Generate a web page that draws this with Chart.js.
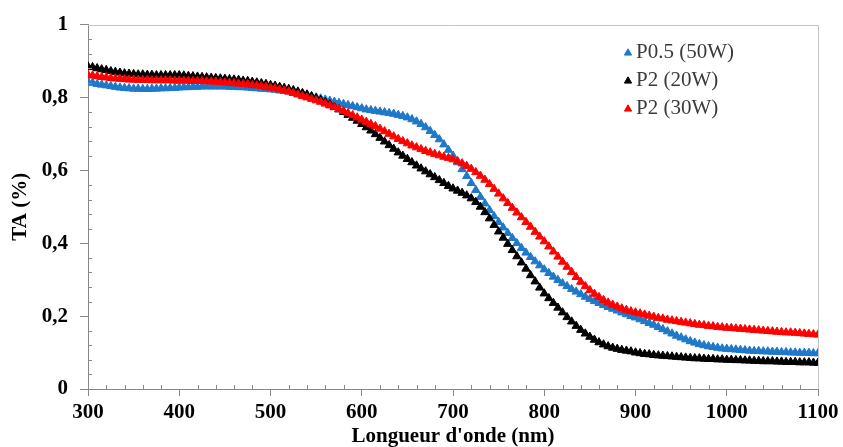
<!DOCTYPE html>
<html>
<head>
<meta charset="utf-8">
<script src="https://cdn.jsdelivr.net/npm/chart.js@4.4.0/dist/chart.umd.min.js"></script>
<style>
  html, body { margin: 0; padding: 0; background: #fff; }
</style>
</head>
<body>
<canvas id="taChart" width="843" height="447"></canvas>
<script>
//---------------------------------------------------------
// Data (one point every 5 nm)
const wavelengths = [
  300, 305, 310, 315, 320, 325, 330, 335, 340, 345, 350, 355, 360, 365, 370, 375, 380, 385, 390, 395,
  400, 405, 410, 415, 420, 425, 430, 435, 440, 445, 450, 455, 460, 465, 470, 475, 480, 485, 490, 495,
  500, 505, 510, 515, 520, 525, 530, 535, 540, 545, 550, 555, 560, 565, 570, 575, 580, 585, 590, 595,
  600, 605, 610, 615, 620, 625, 630, 635, 640, 645, 650, 655, 660, 665, 670, 675, 680, 685, 690, 695,
  700, 705, 710, 715, 720, 725, 730, 735, 740, 745, 750, 755, 760, 765, 770, 775, 780, 785, 790, 795,
  800, 805, 810, 815, 820, 825, 830, 835, 840, 845, 850, 855, 860, 865, 870, 875, 880, 885, 890, 895,
  900, 905, 910, 915, 920, 925, 930, 935, 940, 945, 950, 955, 960, 965, 970, 975, 980, 985, 990, 995,
  1000, 1005, 1010, 1015, 1020, 1025, 1030, 1035, 1040, 1045, 1050, 1055, 1060, 1065, 1070, 1075, 1080, 1085, 1090, 1095,
  1100
];

// P0.5 (50W) - blue
const taP05_50W = [
  0.843, 0.840, 0.837, 0.835, 0.833, 0.831, 0.829, 0.827, 0.826, 0.825, 0.824, 0.824, 0.823, 0.823, 0.824, 0.824, 0.825, 0.825, 0.826, 0.826,
  0.827, 0.828, 0.828, 0.829, 0.829, 0.830, 0.830, 0.830, 0.830, 0.830, 0.830, 0.829, 0.829, 0.828, 0.828, 0.827, 0.826, 0.825, 0.824, 0.823,
  0.822, 0.821, 0.819, 0.818, 0.816, 0.814, 0.812, 0.809, 0.806, 0.803, 0.800, 0.797, 0.794, 0.791, 0.788, 0.785, 0.782, 0.779, 0.776, 0.773,
  0.770, 0.767, 0.765, 0.763, 0.761, 0.759, 0.757, 0.755, 0.752, 0.749, 0.745, 0.740, 0.734, 0.727, 0.718, 0.708, 0.697, 0.685, 0.671, 0.656,
  0.640, 0.622, 0.603, 0.584, 0.565, 0.546, 0.527, 0.509, 0.491, 0.474, 0.458, 0.443, 0.428, 0.414, 0.400, 0.387, 0.374, 0.362, 0.350, 0.339,
  0.328, 0.318, 0.308, 0.299, 0.290, 0.282, 0.274, 0.267, 0.260, 0.253, 0.247, 0.241, 0.236, 0.230, 0.225, 0.220, 0.215, 0.210, 0.205, 0.200,
  0.196, 0.191, 0.186, 0.181, 0.176, 0.170, 0.164, 0.158, 0.152, 0.146, 0.141, 0.136, 0.131, 0.127, 0.123, 0.120, 0.117, 0.115, 0.113, 0.111,
  0.110, 0.109, 0.108, 0.107, 0.106, 0.105, 0.104, 0.104, 0.103, 0.103, 0.102, 0.102, 0.101, 0.101, 0.100, 0.100, 0.099, 0.099, 0.099, 0.098,
  0.098
];

// P2 (20W) - black
const taP2_20W = [
  0.885, 0.883, 0.880, 0.877, 0.875, 0.872, 0.870, 0.868, 0.866, 0.865, 0.864, 0.863, 0.863, 0.862, 0.862, 0.861, 0.861, 0.861, 0.861, 0.861,
  0.861, 0.860, 0.859, 0.858, 0.857, 0.856, 0.855, 0.854, 0.853, 0.852, 0.851, 0.850, 0.849, 0.848, 0.846, 0.845, 0.843, 0.841, 0.839, 0.837,
  0.834, 0.832, 0.829, 0.826, 0.823, 0.820, 0.816, 0.812, 0.808, 0.803, 0.798, 0.793, 0.787, 0.781, 0.774, 0.767, 0.760, 0.752, 0.744, 0.736,
  0.727, 0.718, 0.709, 0.699, 0.689, 0.679, 0.669, 0.659, 0.649, 0.640, 0.631, 0.622, 0.613, 0.605, 0.597, 0.589, 0.581, 0.573, 0.565, 0.557,
  0.550, 0.544, 0.538, 0.531, 0.523, 0.513, 0.500, 0.485, 0.468, 0.450, 0.432, 0.415, 0.398, 0.381, 0.364, 0.347, 0.330, 0.312, 0.295, 0.278,
  0.262, 0.249, 0.236, 0.223, 0.210, 0.197, 0.185, 0.173, 0.162, 0.152, 0.143, 0.135, 0.128, 0.122, 0.117, 0.113, 0.110, 0.107, 0.105, 0.103,
  0.100, 0.098, 0.096, 0.095, 0.093, 0.092, 0.091, 0.090, 0.089, 0.088, 0.087, 0.086, 0.085, 0.084, 0.084, 0.083, 0.082, 0.082, 0.081, 0.081,
  0.080, 0.080, 0.079, 0.079, 0.078, 0.078, 0.077, 0.077, 0.076, 0.076, 0.076, 0.075, 0.075, 0.074, 0.074, 0.074, 0.073, 0.073, 0.073, 0.072,
  0.072
];

// P2 (30W) - red
const taP2_30W = [
  0.862, 0.860, 0.858, 0.856, 0.855, 0.853, 0.852, 0.851, 0.850, 0.849, 0.849, 0.848, 0.848, 0.848, 0.847, 0.847, 0.847, 0.847, 0.847, 0.846,
  0.846, 0.846, 0.846, 0.845, 0.845, 0.845, 0.844, 0.844, 0.843, 0.842, 0.841, 0.840, 0.839, 0.838, 0.837, 0.836, 0.834, 0.833, 0.831, 0.829,
  0.827, 0.825, 0.822, 0.819, 0.816, 0.812, 0.808, 0.804, 0.800, 0.796, 0.792, 0.788, 0.783, 0.778, 0.773, 0.768, 0.763, 0.757, 0.751, 0.745,
  0.739, 0.733, 0.727, 0.721, 0.714, 0.707, 0.700, 0.693, 0.686, 0.680, 0.674, 0.668, 0.663, 0.658, 0.653, 0.649, 0.645, 0.641, 0.637, 0.634,
  0.630, 0.625, 0.619, 0.612, 0.604, 0.595, 0.585, 0.574, 0.562, 0.549, 0.536, 0.523, 0.510, 0.497, 0.484, 0.471, 0.458, 0.445, 0.431, 0.418,
  0.405, 0.391, 0.377, 0.363, 0.349, 0.335, 0.321, 0.307, 0.294, 0.282, 0.271, 0.261, 0.252, 0.244, 0.237, 0.231, 0.226, 0.221, 0.217, 0.213,
  0.210, 0.207, 0.204, 0.201, 0.198, 0.195, 0.193, 0.190, 0.188, 0.186, 0.184, 0.182, 0.180, 0.178, 0.176, 0.175, 0.173, 0.172, 0.170, 0.169,
  0.168, 0.167, 0.166, 0.165, 0.164, 0.163, 0.162, 0.161, 0.160, 0.159, 0.158, 0.157, 0.156, 0.155, 0.155, 0.154, 0.153, 0.152, 0.151, 0.150,
  0.149
];

const seriesLabels = ["P0.5 (50W)", "P2 (20W)", "P2 (30W)"];
const seriesValues = [taP05_50W, taP2_20W, taP2_30W];
const seriesColors = ["#1f78c8", "#000000", "#ff0000"];

const FONT = "'Liberation Serif', 'Times New Roman', serif";
const AXIS_GREY = "#878787";

//---------------------------------------------------------
// Small plugins: frame, minor ticks (inside), legend box
const frameAndMinorTicks = {
  id: "frameAndMinorTicks",
  afterDraw(chart) {
    const { ctx, chartArea: a, scales: { x, y } } = chart;
    ctx.save();
    // light frame on top and right
    ctx.strokeStyle = "#c4c4c4";
    ctx.lineWidth = 1;
    ctx.beginPath();
    ctx.moveTo(a.left, Math.round(a.top) + 0.5);
    ctx.lineTo(Math.round(a.right) + 0.5, Math.round(a.top) + 0.5);
    ctx.lineTo(Math.round(a.right) + 0.5, a.bottom);
    ctx.stroke();

    // minor ticks every 20 nm and every 0.04
    ctx.strokeStyle = AXIS_GREY;
    ctx.beginPath();
    for (let v = 320; v < 1100; v += 20) {
      if (v % 100 === 0) continue;
      const px = Math.round(x.getPixelForValue(v)) + 0.5;
      ctx.moveTo(px, a.bottom);
      ctx.lineTo(px, a.bottom - 4);
    }
    for (let i = 1; i < 25; i++) {
      if (i % 5 === 0) continue;
      const py = Math.round(y.getPixelForValue(i * 0.04)) + 0.5;
      ctx.moveTo(a.left, py);
      ctx.lineTo(a.left + 4, py);
    }
    ctx.stroke();
    ctx.restore();
  }
};

const sideLegend = {
  id: "sideLegend",
  afterDraw(chart) {
    const { ctx } = chart;
    ctx.save();
    ctx.font = "21px " + FONT;
    ctx.textBaseline = "middle";
    seriesLabels.forEach((label, i) => {
      const yy = 52 + i * 28;
      ctx.fillStyle = seriesColors[i];
      ctx.strokeStyle = seriesColors[i];
      Chart.helpers.drawPoint(ctx, { pointStyle: "triangle", radius: 4.2, borderWidth: 1, rotation: 0 }, 628, yy + 1);
      ctx.fillStyle = "#3a3a3a";
      ctx.fillText(label, 636, yy);
    });
    ctx.restore();
  }
};

//---------------------------------------------------------
// Chart
const ctx = document.getElementById("taChart").getContext("2d");
new Chart(ctx, {
  type: "scatter",
  data: {
    datasets: seriesValues.map((vals, i) => ({
      label: seriesLabels[i],
      data: vals.map((v, k) => ({ x: wavelengths[k], y: v })),
      showLine: false,
      pointStyle: "triangle",
      pointRadius: 4.8,
      pointHoverRadius: 4.8,
      pointBorderWidth: 1,
      backgroundColor: seriesColors[i],
      borderColor: seriesColors[i],
      order: 2 - i, // red drawn last (on top), like the original
    })),
  },
  options: {
    responsive: false,
    animation: false,
    devicePixelRatio: 1,
    layout: { padding: { top: 21, right: 25, left: 0, bottom: 0 } },
    scales: {
      x: {
        type: "linear",
        min: 300,
        max: 1100,
        ticks: {
          stepSize: 100,
          color: "#000",
          padding: 4,
          font: { family: FONT, size: 21, weight: "bold" },
          callback: (v) => String(v), // no thousands separator
        },
        grid: { drawOnChartArea: false, tickLength: 7, color: AXIS_GREY },
        border: { color: AXIS_GREY },
        title: {
          display: true,
          text: "Longueur d'onde (nm)",
          color: "#000",
          padding: 0,
          font: { family: FONT, size: 21, weight: "bold", lineHeight: 1 },
        },
        afterFit: (s) => { s.height = 58; },
      },
      y: {
        min: 0,
        max: 1,
        ticks: {
          stepSize: 0.2,
          color: "#000",
          padding: 12,
          font: { family: FONT, size: 21, weight: "bold" },
          callback: (v) => String(+v.toFixed(1)).replace(".", ","), // French decimal comma
        },
        grid: { drawOnChartArea: false, tickLength: 8, color: AXIS_GREY },
        border: { color: AXIS_GREY },
        title: {
          display: true,
          text: "TA (%)",
          color: "#000",
          padding: { top: 10, bottom: 0 },
          font: { family: FONT, size: 21, weight: "bold", lineHeight: 1 },
        },
        afterFit: (s) => { s.width = 88; },
      },
    },
    plugins: { legend: { display: false }, tooltip: { enabled: false } },
  },
  plugins: [frameAndMinorTicks, sideLegend],
});
</script>
</body>
</html>
